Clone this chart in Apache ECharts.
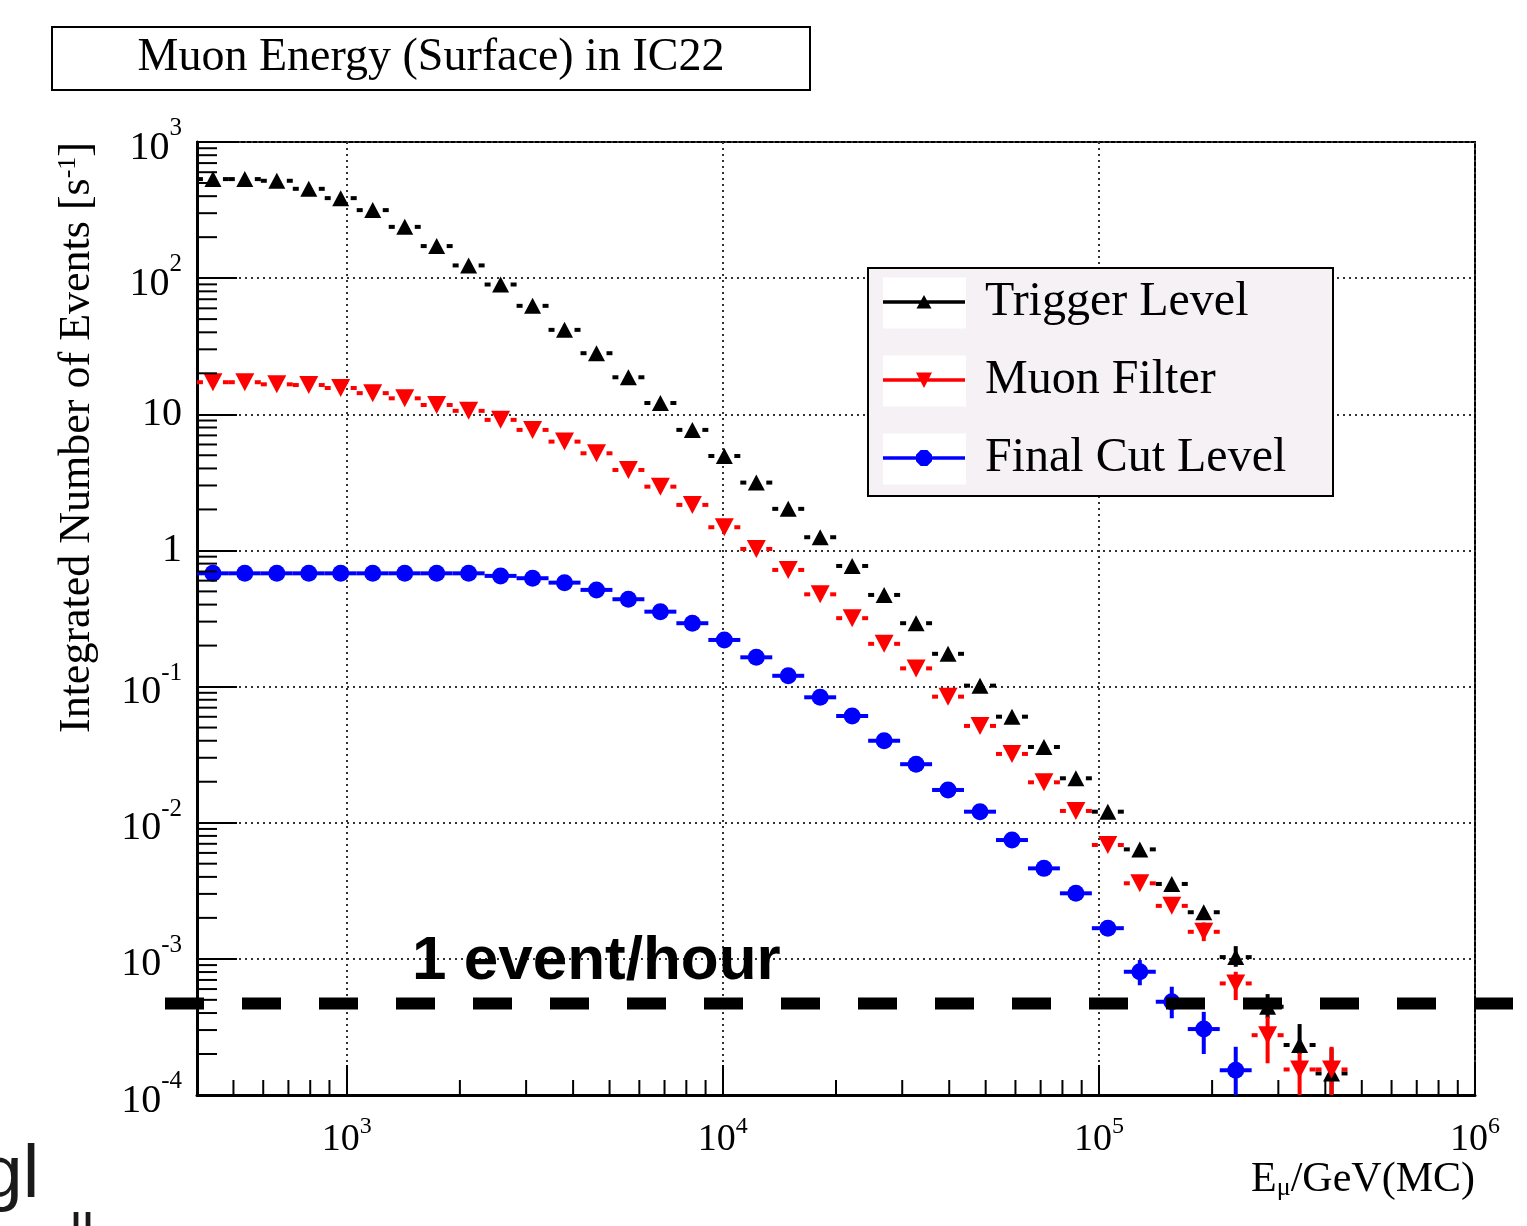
<!DOCTYPE html>
<html><head><meta charset="utf-8">
<script src="https://cdn.jsdelivr.net/npm/echarts@6/dist/echarts.min.js"></script>
<style>html,body{margin:0;padding:0;background:#fff}#c{width:1527px;height:1226px}</style>
</head><body><div id="c"></div>
<script>
// ---------------- data ----------------
const energyGeV = [441, 536, 652, 793, 964, 1173, 1427, 1735, 2110, 2566, 3121, 3795, 4616, 5611, 6825, 8301,
  10095, 12278, 14928, 18155, 22080, 26853, 32659, 39712, 48295, 58735, 71434, 86859,
  105630, 128470, 156240, 190030, 231110, 280930, 341710, 415530];
const triggerLevel = [534, 534, 519, 453, 387, 316, 238, 172, 124, 89.8, 62.6, 41.7, 28.1, 18.7, 12.1, 7.68,
  4.94, 3.15, 2.02, 1.25, 0.769, 0.471, 0.292, 0.174, 0.1016, 0.0601, 0.036, 0.0212,
  0.01205, 0.00637, 0.00355, 0.0022, 0.00103, 0.000445, 0.000233, 0.000144];
const muonFilter = [17.2, 17.2, 16.6, 16.4, 15.6, 14.3, 13.1, 11.7, 10.6, 9.1, 7.68, 6.30, 5.17, 3.90, 2.94, 2.16,
  1.48, 1.025, 0.719, 0.476, 0.318, 0.206, 0.136, 0.0843, 0.0514, 0.032, 0.0198, 0.0122,
  0.00686, 0.00359, 0.00245, 0.00158, 0.00066, 0.000275, 0.000154, 0.000154];
const finalCutLevel = [0.679, 0.679, 0.679, 0.679, 0.679, 0.679, 0.679, 0.679, 0.679, 0.650, 0.625, 0.580, 0.513,
  0.438, 0.355, 0.292, 0.220, 0.164, 0.120, 0.0834, 0.0608, 0.0400, 0.0269, 0.0174, 0.01205,
  0.00746, 0.00462, 0.00303, 0.00168, 0.000804, 0.000484, 0.000305, 0.000152];
// vertical error bars: [point index, lower value, upper value]
const triggerErr = [[32, 0.000875, 0.00124], [33, 0.000366, 0.000551], [34, 0.0002, 0.000332], [35, 0.00009, 0.00022]];
const muonErr = [[31, 0.00135, 0.00185], [32, 0.000498, 0.000804], [33, 0.000171, 0.000376], [34, 0.00008, 0.000226], [35, 0.00008, 0.000226]];
const finalErr = [[29, 0.00064, 0.00098], [30, 0.000366, 0.000624], [31, 0.0002, 0.000408], [32, 0.00008, 0.000226]];
const seriesNames = ['Trigger Level', 'Muon Filter', 'Final Cut Level'];
const hourLevel = 4.7e-4;
const hourText = '1 event/hour';
const titleText = 'Muon Energy (Surface) in IC22';
const xTitle = '{n|E}{u|\u03bc}{n|/GeV(MC)}';
const yTitle = '{n|Integrated Number of Events [s}{u|-1}{n|]}';

// ---------------- helpers ----------------
const SERIF = 'Liberation Serif';
function expLabel(v) {
  const e = Math.round(Math.log10(v));
  if (e === 0) return '{b|1}';
  if (e === 1) return '{b|10}';
  return '{c|10}{s|' + e + '}';
}
function binEdges(i) {
  const E = energyGeV;
  const lo = i > 0 ? Math.sqrt(E[i - 1] * E[i]) : E[0] * E[0] / Math.sqrt(E[0] * E[1]);
  const hi = i < E.length - 1 ? Math.sqrt(E[i] * E[i + 1]) : E[i] * E[i] / Math.sqrt(E[i - 1] * E[i]);
  return [lo, hi];
}
function errRows(values, errs) {
  return values.map((v, i) => {
    const ed = binEdges(i);
    const e = errs.find(r => r[0] === i);
    return [energyGeV[i], v, ed[0], ed[1], e ? e[1] : 0, e ? e[2] : 0];
  });
}
function errSeries(name, values, errs, color, gap) {
  return {
    type: 'custom', name: name, coordinateSystem: 'cartesian2d', silent: true, z: 2,
    encode: { x: 0, y: 1 },
    itemStyle: { color: color },
    data: errRows(values, errs),
    renderItem: function (params, api) {
      const c = api.coord([api.value(0), api.value(1)]);
      const l = api.coord([api.value(2), api.value(1)]);
      const r = api.coord([api.value(3), api.value(1)]);
      const cs = params.coordSys; const bottom = cs.y + cs.height;
      const st = { stroke: color, lineWidth: 4 };
      const ch = [
        { type: 'line', shape: { x1: l[0], y1: c[1], x2: c[0] - gap, y2: c[1] }, style: st },
        { type: 'line', shape: { x1: c[0] + gap, y1: c[1], x2: r[0], y2: c[1] }, style: st }
      ];
      if (api.value(4) > 0) {
        const pl = api.coord([api.value(0), api.value(4)]);
        const ph = api.coord([api.value(0), api.value(5)]);
        ch.push({ type: 'line', shape: { x1: c[0], y1: Math.min(pl[1], bottom), x2: c[0], y2: ph[1] }, style: st });
      }
      return { type: 'group', children: ch };
    }
  };
}
function markSeries(name, values, color, symbol, size) {
  return {
    type: 'scatter', name: name, z: 3, symbol: symbol, symbolSize: size,
    itemStyle: { color: color, opacity: 1 },
    data: values.map((v, i) => [energyGeV[i], v])
  };
}
// minor ticks (2..9 within each decade)
const yMinor = [];
for (let d = -4; d <= 2; d++) for (let m = 2; m <= 9; m++) yMinor.push([400, m * Math.pow(10, d)]);
const xMinor = [];
for (let d = 2; d <= 5; d++) for (let m = 2; m <= 9; m++) { const v = m * Math.pow(10, d); if (v > 400 && v < 1e6) xMinor.push([v, 1e-4]); }

const iconLine = 'M0,0L0.05,0L0,0.05Z M82,18L81.95,18L82,17.95Z M0,7.3H82V10.7H0Z ';
const legendIcons = [
  'path://' + iconLine + 'M33.5,15.5L41,2L48.5,15.5Z',
  'path://' + iconLine + 'M33,1.5H49L41,17Z',
  'path://' + iconLine + 'M37.7,1H44.3L49,5.7V12.3L44.3,17H37.7L33,12.3V5.7Z'
];

const chart = echarts.init(document.getElementById('c'), null, { renderer: 'canvas', width: 1527, height: 1226 });
const option = {
  animation: false,
  backgroundColor: '#ffffff',
  textStyle: { fontFamily: SERIF },
  title: {
    text: titleText, left: 431, top: 32, textAlign: 'center', padding: 0,
    textStyle: { fontFamily: SERIF, fontSize: 46, fontWeight: 'normal', color: '#000', lineHeight: 52 }
  },
  legend: {
    orient: 'vertical', left: 883, top: 277, padding: 0, itemGap: 28, itemWidth: 82, itemHeight: 18,
    selectedMode: false, symbolRotate: 0, z: 10,
    data: seriesNames.map((n, i) => ({ name: n, icon: legendIcons[i] })),
    textStyle: { fontFamily: SERIF, fontSize: 48, color: '#000', lineHeight: 50, padding: [0, 0, 0, 15] }
  },
  grid: { left: 197, top: 142, width: 1278, height: 953, show: true, borderColor: '#000', borderWidth: 2,
    backgroundColor: 'transparent', containLabel: false, outerBoundsMode: 'none' },
  xAxis: {
    type: 'log', logBase: 10, min: 400, max: 1e6, position: 'bottom',
    name: xTitle, nameLocation: 'end', nameGap: 0, nameMoveOverlap: false,
    nameTextStyle: { align: 'right', verticalAlign: 'top', padding: [64, 0, 0, 0],
      rich: { n: { fontFamily: SERIF, fontSize: 42, color: '#000' }, u: { fontFamily: SERIF, fontSize: 26, color: '#000', verticalAlign: 'bottom' } } },
    axisLine: { show: true, onZero: false, lineStyle: { color: '#000', width: 3 } },
    axisTick: { show: true, inside: true, length: 30, lineStyle: { color: '#000', width: 2 } },
    axisLabel: { showMinLabel: false, margin: 20, color: '#000', formatter: expLabel,
      rich: { b: { fontFamily: SERIF, fontSize: 38, color: '#000' },
        c: { fontFamily: SERIF, fontSize: 38, color: '#000', padding: [6, 0, 0, 0] },
        s: { fontFamily: SERIF, fontSize: 24, color: '#000', verticalAlign: 'top' } } },
    splitLine: { show: true, lineStyle: { color: '#333', width: 2, type: [2, 4] } }
  },
  yAxis: {
    type: 'log', logBase: 10, min: 1e-4, max: 1e3, splitNumber: 7, position: 'left',
    name: yTitle, nameLocation: 'end', nameRotate: 90, nameGap: 0, nameMoveOverlap: false,
    nameTextStyle: { align: 'right', verticalAlign: 'bottom', padding: [0, 0, 98, 0],
      rich: { n: { fontFamily: SERIF, fontSize: 44, color: '#000' }, u: { fontFamily: SERIF, fontSize: 26, color: '#000', verticalAlign: 'top' } } },
    axisLine: { show: true, onZero: false, lineStyle: { color: '#000', width: 3 } },
    axisTick: { show: true, inside: true, length: 40, lineStyle: { color: '#000', width: 2 } },
    axisLabel: { margin: 15, color: '#000', formatter: expLabel,
      rich: { b: { fontFamily: SERIF, fontSize: 40, color: '#000' },
        c: { fontFamily: SERIF, fontSize: 40, color: '#000', padding: [12, 0, 0, 0] },
        s: { fontFamily: SERIF, fontSize: 25, color: '#000', verticalAlign: 'top' } } },
    splitLine: { show: true, lineStyle: { color: '#333', width: 2, type: [2, 4] } }
  },
  series: [
    { type: 'custom', coordinateSystem: 'cartesian2d', silent: true, z: 4, encode: { x: 0, y: 1 }, data: yMinor,
      renderItem: (p, api) => { const c = api.coord([api.value(0), api.value(1)]);
        return { type: 'line', shape: { x1: c[0], y1: c[1], x2: c[0] + 20, y2: c[1] }, style: { stroke: '#000', lineWidth: 2 } }; } },
    { type: 'custom', coordinateSystem: 'cartesian2d', silent: true, z: 4, encode: { x: 0, y: 1 }, data: xMinor,
      renderItem: (p, api) => { const c = api.coord([api.value(0), api.value(1)]);
        return { type: 'line', shape: { x1: c[0], y1: c[1], x2: c[0], y2: c[1] - 15 }, style: { stroke: '#000', lineWidth: 2 } }; } },
    errSeries(seriesNames[0], triggerLevel, triggerErr, '#000000', 10),
    errSeries(seriesNames[1], muonFilter, muonErr, '#ff0000', 10),
    errSeries(seriesNames[2], finalCutLevel, finalErr, '#0000ff', 0),
    markSeries(seriesNames[0], triggerLevel, '#000000', 'triangle', [17, 16]),
    markSeries(seriesNames[1], muonFilter, '#ff0000', 'path://M0,0L16,0L8,15Z', [19, 18]),
    markSeries(seriesNames[2], finalCutLevel, '#0000ff', 'circle', 17)
  ]
};
chart.setOption(option);

const yHour = chart.convertToPixel({ yAxisIndex: 0 }, hourLevel);
const legendRows = [303, 381, 459];
chart.setOption({
  graphic: [
    { id: 'titleBox', type: 'rect', z: 5, shape: { x: 52, y: 27, width: 758, height: 63 },
      style: { fill: '#fff', stroke: '#000', lineWidth: 2 } },
    { id: 'legBox', type: 'rect', z: 6, shape: { x: 868, y: 268, width: 465, height: 228 },
      style: { fill: '#f5f1f5', stroke: '#000', lineWidth: 2 } },
    ...legendRows.map((cy, i) => ({ id: 'legW' + i, type: 'rect', z: 7,
      shape: { x: 883, y: cy - 25.5, width: 83, height: 51 }, style: { fill: '#ffffff' } })),
    { id: 'hourLine', type: 'line', z: 100, shape: { x1: 165, y1: yHour, x2: 1527, y2: yHour },
      style: { stroke: '#000', lineWidth: 12, lineDash: [39, 38] } },
    { id: 'hourText', type: 'text', z: 100, x: 412, y: yHour - 42,
      style: { text: hourText, fontFamily: 'Liberation Sans', fontWeight: 'bold', fontSize: 62, fill: '#000',
        align: 'left', verticalAlign: 'middle' } },
    { id: 'gl', type: 'text', z: 100, x: -19, y: 1176,
      style: { text: 'gl', fontFamily: 'Liberation Sans', fontSize: 75, fill: '#1a1a1a', align: 'left', verticalAlign: 'middle' } },
    { id: 'll', type: 'text', z: 100, x: 70, y: 1236,
      style: { text: 'll', fontFamily: 'Liberation Sans', fontSize: 54, fill: '#1a1a1a', align: 'left', verticalAlign: 'middle' } }
  ]
});
</script></body></html>
